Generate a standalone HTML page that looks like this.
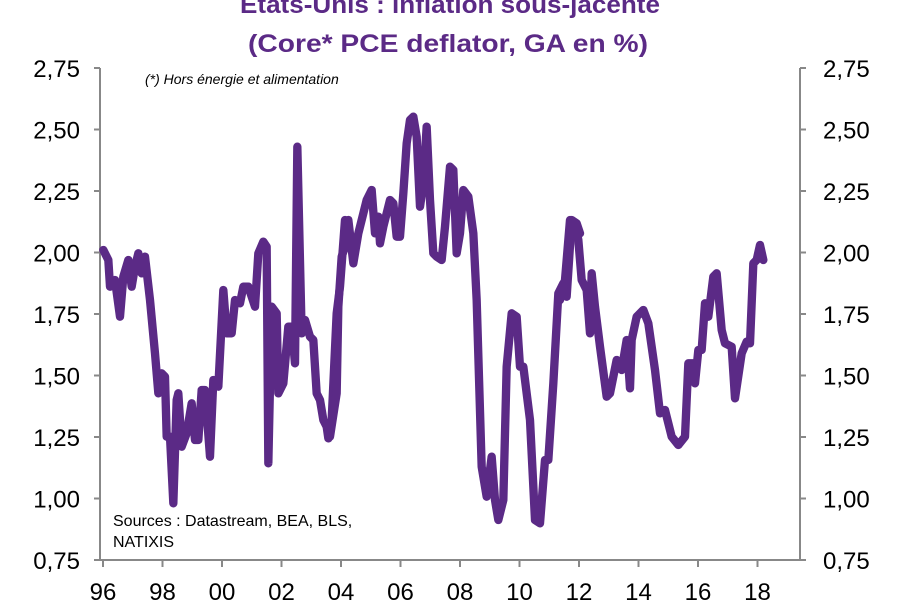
<!DOCTYPE html>
<html><head><meta charset="utf-8"><style>
body{margin:0;background:#fff;width:900px;height:600px;overflow:hidden}
svg{display:block}
text{font-family:"Liberation Sans",sans-serif}
</style></head><body>
<svg width="900" height="600" viewBox="0 0 900 600">
<g fill="#5b2a86" font-weight="bold" font-size="25" text-anchor="middle">
<text x="450" y="13" textLength="420" lengthAdjust="spacingAndGlyphs">États-Unis : inflation sous-jacente</text>
<text x="448" y="52" textLength="400" lengthAdjust="spacingAndGlyphs">(Core* PCE deflator, GA en %)</text>
</g>
<g stroke="#888" stroke-width="2" fill="none">
<line x1="100" y1="68" x2="100" y2="561"/>
<line x1="800" y1="68" x2="800" y2="561"/>
<line x1="100" y1="560" x2="800" y2="560"/>
</g>
<g stroke="#888" stroke-width="2">
<line x1="94" y1="68" x2="100" y2="68"/><line x1="94" y1="129.5" x2="100" y2="129.5"/><line x1="94" y1="191" x2="100" y2="191"/><line x1="94" y1="252.5" x2="100" y2="252.5"/><line x1="94" y1="314" x2="100" y2="314"/><line x1="94" y1="375.5" x2="100" y2="375.5"/><line x1="94" y1="437" x2="100" y2="437"/><line x1="94" y1="498.5" x2="100" y2="498.5"/><line x1="94" y1="560" x2="100" y2="560"/>
<line x1="800" y1="68" x2="806" y2="68"/><line x1="800" y1="129.5" x2="806" y2="129.5"/><line x1="800" y1="191" x2="806" y2="191"/><line x1="800" y1="252.5" x2="806" y2="252.5"/><line x1="800" y1="314" x2="806" y2="314"/><line x1="800" y1="375.5" x2="806" y2="375.5"/><line x1="800" y1="437" x2="806" y2="437"/><line x1="800" y1="498.5" x2="806" y2="498.5"/><line x1="800" y1="560" x2="806" y2="560"/>
<line x1="103" y1="560" x2="103" y2="567"/><line x1="162.5" y1="560" x2="162.5" y2="567"/><line x1="222" y1="560" x2="222" y2="567"/><line x1="281.5" y1="560" x2="281.5" y2="567"/><line x1="341" y1="560" x2="341" y2="567"/><line x1="400.5" y1="560" x2="400.5" y2="567"/><line x1="460" y1="560" x2="460" y2="567"/><line x1="519.5" y1="560" x2="519.5" y2="567"/><line x1="579" y1="560" x2="579" y2="567"/><line x1="638.5" y1="560" x2="638.5" y2="567"/><line x1="698" y1="560" x2="698" y2="567"/><line x1="757.5" y1="560" x2="757.5" y2="567"/>
</g>
<g font-size="24" fill="#000" text-anchor="end">
<text x="80" y="77">2,75</text><text x="80" y="138.5">2,50</text><text x="80" y="200">2,25</text><text x="80" y="261.5">2,00</text><text x="80" y="323">1,75</text><text x="80" y="384.5">1,50</text><text x="80" y="446">1,25</text><text x="80" y="507.5">1,00</text><text x="80" y="569">0,75</text>
</g>
<g font-size="24" fill="#000">
<text x="823" y="77">2,75</text><text x="823" y="138.5">2,50</text><text x="823" y="200">2,25</text><text x="823" y="261.5">2,00</text><text x="823" y="323">1,75</text><text x="823" y="384.5">1,50</text><text x="823" y="446">1,25</text><text x="823" y="507.5">1,00</text><text x="823" y="569">0,75</text>
</g>
<g font-size="24" fill="#000" text-anchor="middle">
<text x="103" y="600">96</text><text x="162.5" y="600">98</text><text x="222" y="600">00</text><text x="281.5" y="600">02</text><text x="341" y="600">04</text><text x="400.5" y="600">06</text><text x="460" y="600">08</text><text x="519.5" y="600">10</text><text x="579" y="600">12</text><text x="638.5" y="600">14</text><text x="698" y="600">16</text><text x="757.5" y="600">18</text>
</g>
<text x="145" y="84" font-size="14" font-style="italic" fill="#000">(*) Hors énergie et alimentation</text>
<text x="113" y="526" font-size="16" fill="#000">Sources  : Datastream,  BEA, BLS,</text>
<text x="113" y="547" font-size="16" fill="#000">NATIXIS</text>
<g fill="none" stroke="#5b2a86" stroke-linejoin="round" stroke-linecap="round">
<polyline transform="translate(95,100) scale(0.33333)" stroke-width="25" points="25,450 40,480 45,560 60,540 75,650 85,530 100,480 110,560 120,500 130,460 140,520 150,470 165,600 180,760 190,880 200,820 210,830 215,1010 225,1010 235,1210 245,900 250,880 260,1040 275,1000 290,910 300,1020 310,1020 320,870 330,870 345,1070 355,840 370,860 385,570 395,700 410,700 420,600 435,610 445,560 460,560 480,620 490,460 505,425 515,440 520,1090 530,620 545,640 550,880 565,850 580,680 590,680 600,790 607,140 620,700 630,660 645,710 655,720 665,880 675,900 685,960 695,980 700,1015 710,960 725,640 735,560 750,360"/>
<polyline transform="translate(330,100) scale(0.33333)" stroke-width="25" points="0,1010 20,880 25,620 35,470 45,440 55,360 70,490 85,400 100,340 110,300 125,270 135,400 145,350 150,430 160,380 180,300 190,310 200,410 210,410 220,280 230,130 240,60 250,50 260,110 270,320 280,250 290,80 300,300 310,460 320,470 335,480 345,380 360,200 370,210 380,460 390,400 400,270 415,290 430,400 440,600 455,1100 470,1190 485,1070 495,1200 505,1260 520,1200 530,800 545,640 560,650 570,800 580,800 600,960 615,1260 630,1270 645,1080 655,1080 670,850 685,580 700,550 710,590 725,360 740,370 750,400"/>
<polyline transform="translate(560,190) scale(0.33333)" stroke-width="25" points="0,330 15,270 30,90 45,100 55,150 65,270 80,300 90,430 95,250 105,350 120,470 140,620 150,610 170,510 185,540 200,450 210,595 215,450 230,380 250,360 265,400 285,540 300,670 315,660 335,740 355,765 375,740 385,520 400,520 405,580 415,480 425,480 435,340 445,380 460,260 470,250 485,420 495,460 515,470 525,625 545,490 560,455 570,460 580,220 590,210 600,165 610,210"/>
</g>
</svg>
</body></html>
